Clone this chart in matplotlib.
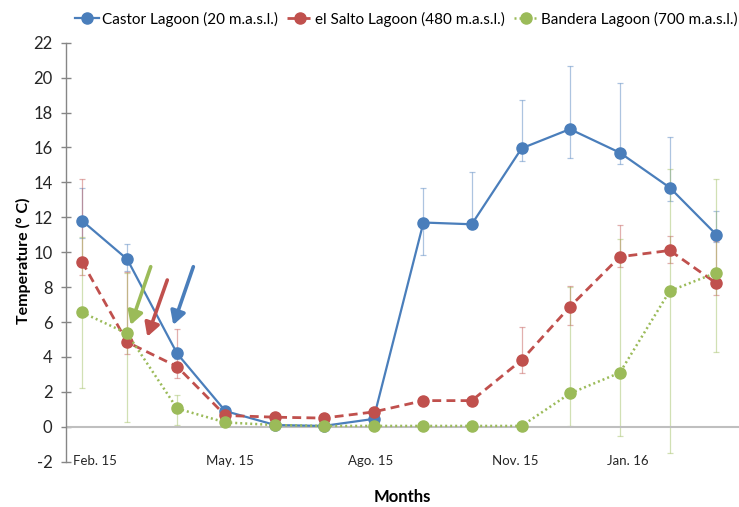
import datetime as dt
import matplotlib
matplotlib.use("Agg")
import matplotlib.pyplot as plt
import matplotlib.dates as mdates

plt.rcParams['font.family'] = ['Lato', 'DejaVu Sans']
plt.rcParams['axes.unicode_minus'] = False

# Sampling dates (mid-month)
dates = [dt.date(2015, m, 15) for m in range(2, 13)] + [dt.date(2016, m, 15) for m in range(1, 4)]

series_names = ["Castor Lagoon (20 m.a.s.l.)",
                "el Salto Lagoon (480 m.a.s.l.)",
                "Bandera Lagoon (700 m.a.s.l.)"]

castor = [11.8, 9.6, 4.2, 0.9, 0.1, 0.05, 0.45, 11.7, 11.6, 15.95, 17.05, 15.7, 13.7, 11.0]
castor_plus = [1.9, 0.85, 0.3, 0, 0, 0, 0, 1.95, 3.0, 2.75, 3.6, 4.0, 2.9, 1.35]
castor_minus = [1.0, 0.65, 0.3, 0, 0, 0, 0, 1.85, 0.25, 0.75, 1.65, 0.65, 0.75, 0.4]

salto = [9.45, 4.85, 3.45, 0.65, 0.55, 0.5, 0.85, 1.5, 1.5, 3.82, 6.88, 9.74, 10.1, 8.22]
salto_plus = [4.75, 4.0, 2.15, 0, 0, 0, 0, 0, 0, 1.9, 1.2, 1.8, 0.8, 2.4]
salto_minus = [0.75, 0.7, 0.65, 0, 0, 0, 0, 0, 0, 0.75, 1.05, 0.6, 0.7, 0.65]

bandera = [6.55, 5.35, 1.05, 0.25, 0.1, 0.05, 0.05, 0.05, 0.05, 0.05, 1.91, 3.1, 7.78, 8.83]
bandera_plus = [4.3, 3.45, 0.75, 0, 0, 0, 0, 0, 0, 0, 6.1, 7.65, 7.0, 5.35]
bandera_minus = [4.3, 5.05, 0.95, 0, 0, 0, 0, 0, 0, 0, 1.87, 3.63, 9.3, 4.55]

tick_dates = [dt.date(2015, 2, 23), dt.date(2015, 5, 18), dt.date(2015, 8, 13),
              dt.date(2015, 11, 11), dt.date(2016, 1, 20)]
tick_labels = ["Feb. 15", "May. 15", "Ago. 15", "Nov. 15", "Jan. 16"]

y_ticks = list(range(-2, 23, 2))

blue, red, green = "#4A7EBB", "#C0504D", "#9BBB59"

fig = plt.figure(figsize=(7.39, 5.07), dpi=100)
ax = fig.add_axes([0.0893, 0.0893, 0.9107, 0.8265])

styles = [
    dict(vals=castor, plus=castor_plus, minus=castor_minus, color=blue, dashes=None, lw=1.6),
    dict(vals=salto, plus=salto_plus, minus=salto_minus, color=red, dashes=(3.2, 1.9), lw=2.0),
    dict(vals=bandera, plus=bandera_plus, minus=bandera_minus, color=green, dashes=(0.8, 1.2), lw=1.8),
]

x = mdates.date2num(dates)
handles = []
for i, (s, name) in enumerate(zip(styles, series_names)):
    ax.errorbar(x, s['vals'], yerr=[s['minus'], s['plus']], fmt='none',
                ecolor=s['color'], elinewidth=0.9, capsize=2.5, capthick=0.9,
                alpha=0.45, zorder=1)
    kw = dict(color=s['color'], lw=s['lw'], marker='o', markersize=8,
              markerfacecolor=s['color'], markeredgecolor=s['color'], zorder=3 + i,
              label=name)
    if s['dashes'] is not None:
        kw['dashes'] = s['dashes']
    line, = ax.plot(x, s['vals'], **kw)
    handles.append(line)

# zero line
ax.axhline(0, color="#BFBFBF", lw=1.5, zorder=2)

# arrows marking the sampling event
arrows = [
    (green, (0.1259, 0.4654), (0.0961, 0.3263)),
    (red, (0.1505, 0.4337), (0.1208, 0.2983)),
    (blue, (0.1892, 0.4654), (0.1594, 0.3263)),
]
for col, tail, head in arrows:
    ax.annotate('', xy=head, xytext=tail, xycoords='axes fraction',
                arrowprops=dict(arrowstyle='-|>,head_length=0.8,head_width=0.45',
                                lw=2.6, color=col, shrinkA=0, shrinkB=0),
                zorder=6)

ax.set_xlim(mdates.date2num(dt.date(2015, 2, 5)), mdates.date2num(dt.date(2016, 3, 29)))
ax.set_ylim(-2, 22)
ax.set_yticks(y_ticks)
ax.set_xticks(mdates.date2num(tick_dates))
ax.set_xticklabels(tick_labels)

for sp in ['top', 'right', 'bottom']:
    ax.spines[sp].set_visible(False)
ax.spines['left'].set_color("#868686")
ax.spines['left'].set_linewidth(1.0)

ax.tick_params(axis='y', direction='inout', length=7.5, width=1.0, color="#868686",
               labelsize=12, pad=6, labelcolor="#262626")
ax.tick_params(axis='x', length=0, labelsize=9.5, pad=-5, labelcolor="#262626")

ax.set_ylabel("Temperature (° C)", fontsize=11.5, fontweight='bold')
ax.yaxis.set_label_coords(-0.052, 0.48)
ax.set_xlabel("Months", fontsize=12, fontweight='bold')
ax.xaxis.set_label_coords(0.5, -0.066)

fig.legend(handles=handles, loc='center', bbox_to_anchor=(0.55, 0.962), ncol=3,
           frameon=False, fontsize=11, handlelength=1.6, columnspacing=0.6,
           handletextpad=0.2)

fig.savefig("out.png", dpi=100)
